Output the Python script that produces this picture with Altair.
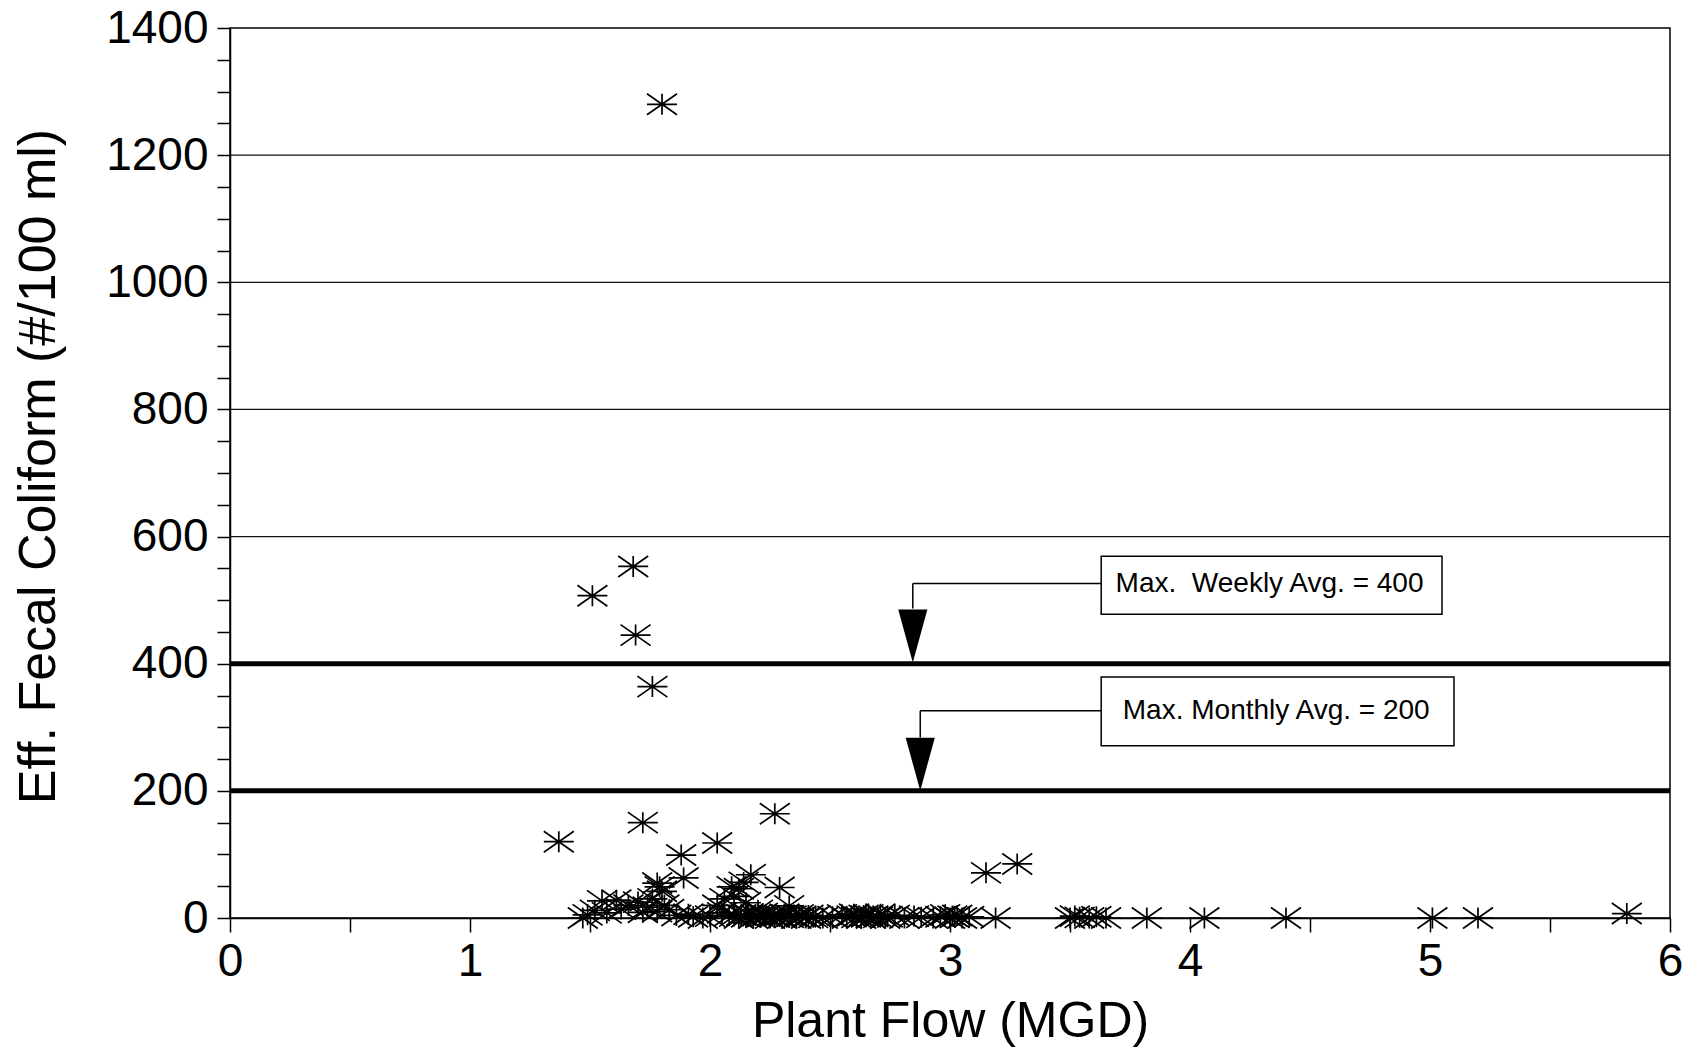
import altair as alt
import pandas as pd

# ---- data ----
flow_high = [1.80, 1.51, 1.68, 1.69, 1.76, 1.37, 1.72, 2.27, 2.03, 1.88, 1.89, 1.79, 1.80, 1.78, 3.15, 3.28, 5.82]
coli_high = [1280, 507, 553, 445, 364, 120, 150, 164, 118, 99, 63, 49, 42, 55, 71, 85, 7]

flow_low1 = [1.49, 1.47, 1.52, 1.55, 1.57, 1.61, 1.63, 1.66, 1.70, 1.72, 1.74, 1.76, 1.78, 1.81, 1.83, 1.86, 1.91, 1.93, 1.97, 2.00]
coli_low1 = [5, 0, 12, 27, 8, 28, 14, 20, 25, 9, 17, 30, 10, 20, 13, 4, 6, 2, 0, 3]

flow_mid = [2.03, 2.09, 2.06, 2.10, 2.12, 2.17, 2.14, 2.29, 2.33, 2.05, 2.08, 2.15, 2.20]
coli_mid = [20, 49, 30, 34, 46, 68, 56, 48, 19, 8, 4, 24, 12]

flow_row = [2.10, 2.12, 2.13, 2.15, 2.16, 2.18, 2.19, 2.21, 2.22, 2.23,
            2.25, 2.26, 2.27, 2.29, 2.30, 2.31, 2.33, 2.34, 2.36, 2.37,
            2.38, 2.40, 2.41, 2.43, 2.44, 2.47, 2.51, 2.55, 2.57, 2.59,
            2.60, 2.61, 2.63, 2.64, 2.65, 2.66, 2.67, 2.68, 2.70, 2.71,
            2.73, 2.74, 2.77, 2.81, 2.85, 2.88, 2.93, 2.96, 2.98, 3.00,
            3.01, 3.02, 3.03, 3.05, 3.08, 3.19, 3.50, 3.52, 3.54, 3.58,
            3.61, 3.65, 3.82, 4.06, 4.40, 5.01, 5.20]
coli_row = [3, 0, 5, 2, 6, 0, 4, 1, 7, 3,
            0, 5, 2, 4, 0, 6, 1, 3, 0, 5,
            2, 0, 4, 1, 3, 0, 2, 5, 0, 3,
            6, 1, 0, 4, 2, 5, 0, 3, 1, 6,
            0, 2, 4, 0, 3, 1, 0, 2, 5, 0,
            3, 1, 4, 0, 2, 0, 0, 3, 1, 0,
            2, 0, 0, 0, 0, 0, 0]

x_ticks = [0, 0.5, 1, 1.5, 2, 2.5, 3, 3.5, 4, 4.5, 5, 5.5, 6]
y_ticks = list(range(0, 1401, 50))
grid_values = [200, 400, 600, 800, 1000, 1200]

limit_values = [400, 200]
limit_labels = ["Max.\u00a0 Weekly Avg. = 400", "Max. Monthly Avg. = 200"]
box_x = [3.63, 3.63]
box_x2 = [5.05, 5.10]
box_top = [569, 379]
box_bottom = [478, 271]
text_x = [3.69, 3.72]
text_y = [526, 326]
elbow_x = [2.845, 2.876]
leader_y = [526, 326]
head_top = [487, 284]

# ---- tables ----
points = pd.DataFrame({
    "flow": flow_high + flow_low1 + flow_mid + flow_row,
    "coli": coli_high + coli_low1 + coli_mid + coli_row,
})
grid_df = pd.DataFrame({"v": grid_values})
limit_df = pd.DataFrame({"v": limit_values})
ann = pd.DataFrame({
    "label": limit_labels, "bx": box_x, "bx2": box_x2, "bt": box_top, "bb": box_bottom,
    "tx": text_x, "ty": text_y, "ex": elbow_x, "ly": leader_y, "ht": head_top,
    "lim": limit_values,
})
ann["hc"] = (ann["ht"] + ann["lim"]) / 2

FONT = "Liberation Sans"
xs = alt.Scale(domain=[0, 6], nice=False, zero=False)
ys = alt.Scale(domain=[0, 1400], nice=False, zero=False)

x_axis = alt.Axis(
    values=x_ticks,
    labelExpr="datum.value % 1 == 0 ? format(datum.value, 'd') : ''",
    tickSize=14, tickWidth=1.5, tickColor="black",
    domainColor="black", domainWidth=1.5,
    labelFont=FONT, labelFontSize=46, labelColor="black", labelPadding=7,
    labelFlush=False, labelOverlap=False, grid=False,
    title="Plant Flow (MGD)", titleFont=FONT, titleFontSize=50,
    titleFontWeight="normal", titleColor="black",
    titleY=103, titleBaseline="middle",
)
y_axis = alt.Axis(
    values=y_ticks,
    labelExpr="datum.value % 200 == 0 ? format(datum.value, 'd') : ''",
    tickSize=13, tickWidth=1.5, tickColor="black",
    domainColor="black", domainWidth=1.5,
    labelFont=FONT, labelFontSize=46, labelColor="black", labelPadding=9,
    labelOverlap=False, grid=False,
    title="Eff. Fecal Coliform (#/100 ml)", titleFont=FONT, titleFontSize=52,
    titleFontWeight="normal", titleColor="black",
    titleX=-192, titleY=438, titleAlign="center", titleBaseline="middle",
)


def X(field):
    return alt.X(field, scale=xs, axis=x_axis)


def Y(field):
    return alt.Y(field, scale=ys, axis=y_axis)


asterisk = "M -1 0 L 1 0 M 0 -0.7 L 0 0.7 M -1 -0.7 L 1 0.7 M -1 0.7 L 1 -0.7"
pts = alt.Chart(points).mark_point(
    shape=asterisk, size=900, filled=False, stroke="black", strokeWidth=1.7, opacity=1
).encode(x=X("flow:Q"), y=Y("coli:Q"))

grid = alt.Chart(grid_df).mark_rule(color="#111", strokeWidth=1.2).encode(y=Y("v:Q"))
limits = alt.Chart(limit_df).mark_rule(color="black", strokeWidth=5).encode(y=Y("v:Q"))

hline = alt.Chart(ann).mark_rule(color="black", strokeWidth=1.5).encode(
    x=X("ex:Q"), x2="bx:Q", y=Y("ly:Q"),
)
vline = alt.Chart(ann).mark_rule(color="black", strokeWidth=1.5).encode(
    x=X("ex:Q"), y=Y("ly:Q"), y2="ht:Q",
)
arrow = "M -0.55 -1 L 0.55 -1 L 0 1 Z"
heads = alt.Chart(ann).mark_point(
    shape=arrow, size=2809, filled=True, fill="black", strokeWidth=0, opacity=1
).encode(x=X("ex:Q"), y=Y("hc:Q"))
boxes = alt.Chart(ann).mark_rect(fill="white", stroke="black", strokeWidth=1.5).encode(
    x=X("bx:Q"), x2="bx2:Q", y=Y("bt:Q"), y2="bb:Q",
)
texts = alt.Chart(ann).mark_text(
    align="left", baseline="middle", font=FONT, fontSize=28, color="black"
).encode(x=X("tx:Q"), y=Y("ty:Q"), text="label:N")

chart = alt.layer(pts, grid, limits, hline, vline, heads, boxes, texts).properties(
    width=1440, height=890,
    autosize=alt.AutoSizeParams(type="none"),
    padding={"left": 222, "top": 20, "right": 12, "bottom": 130},
    background="white",
).configure_view(stroke="black", strokeWidth=1.5)

chart.save("out.html", embed_options={"renderer": "svg", "actions": False})
